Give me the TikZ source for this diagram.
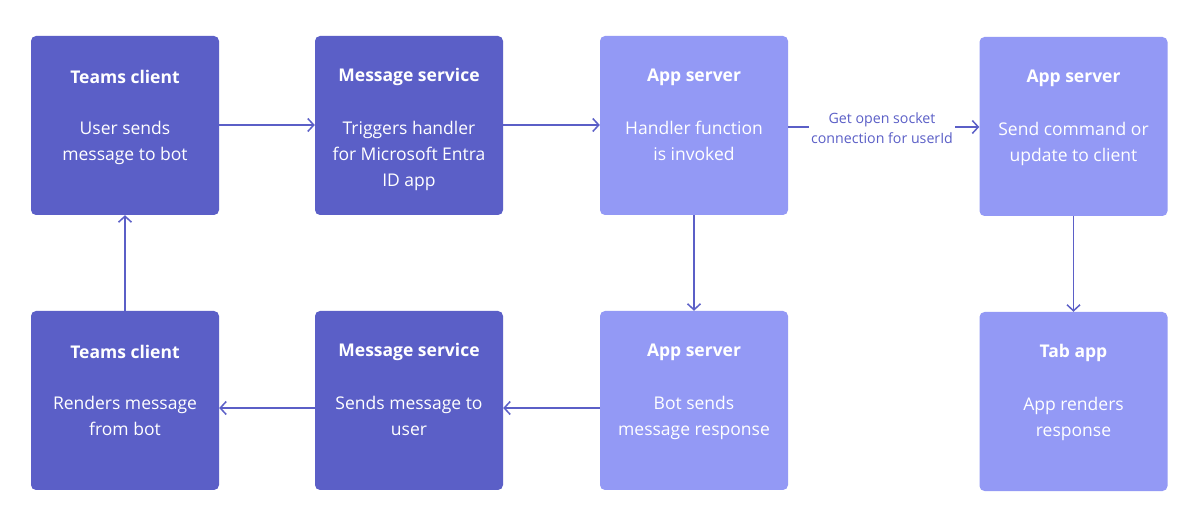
\documentclass[tikz,border=0pt]{standalone}
\usepackage{fontspec}
\setmainfont{Open Sans}
\usetikzlibrary{arrows.meta}
\definecolor{darkp}{HTML}{5B5FC7}
\definecolor{lightp}{HTML}{9399F5}
\begin{document}
\begin{tikzpicture}[x=1pt,y=-1pt,
  box/.style={rounded corners=5pt,minimum width=188pt,minimum height=179pt,inner sep=0pt,draw=none},
  dbox/.style={box,fill=darkp},
  lbox/.style={box,fill=lightp},
  ttl/.style={text=white,font=\fontsize{17.5}{24}\selectfont\bfseries},
  bdy/.style={text=white,font=\fontsize{17.5}{26}\selectfont,align=center,anchor=north,inner sep=0pt},
  conn/.style={draw=darkp,line width=1.5pt,-{Straight Barb[length=6pt,width=13pt,line width=1.5pt]}},
  lbl/.style={text=darkp,font=\fontsize{14.2}{20}\selectfont,align=center,fill=white,inner sep=2pt}
]
\useasboundingbox[fill=white] (0,0) rectangle (1200,526);
% row 1
\node[dbox] (b1) at (125,125.5) {};
\node[dbox] (b2) at (409,125.5) {};
\node[lbox] (b3) at (694,125.5) {};
\node[lbox] (b4) at (1073.5,126.5) {};
% row 2
\node[dbox] (c1) at (125,400.5) {};
\node[dbox] (c2) at (409,400.5) {};
\node[lbox] (c3) at (694,400.5) {};
\node[lbox] (c4) at (1073.5,401.5) {};
% titles
\node[ttl] (t1) at (125,77) {Teams client};
\node[ttl] (t2) at (409,77) {Message service};
\node[ttl] (t3) at (694,77) {App server};
\node[ttl] (t4) at (1073.5,78) {App server};
\node[ttl] (u1) at (125,352) {Teams client};
\node[ttl] (u2) at (409,352) {Message service};
\node[ttl] (u3) at (694,352) {App server};
\node[ttl] (u4) at (1073.5,353) {Tab app};
% bodies
\node[bdy] (d1) at (125,121) {User sends\\message to bot};
\node[bdy] (d2) at (409,121) {Triggers handler\\for Microsoft Entra\\ID app};
\node[bdy] (d3) at (694,121) {Handler function\\is invoked};
\node[bdy] (d4) at (1073.5,122) {Send command or\\update to client};
\node[bdy] (e1) at (125,396) {Renders message\\from bot};
\node[bdy] (e2) at (409,396) {Sends message to\\user};
\node[bdy] (e3) at (694,396) {Bot sends\\message response};
\node[bdy] (e4) at (1073.5,397) {App renders\\response};
% connectors
\draw[conn] (b1.east |- 0,125) -- (b2.west |- 0,125);
\draw[conn] (b2.east |- 0,125) -- (b3.west |- 0,125);
\node[lbl] (l1) at (882,128) {Get open socket\\connection for userId};
\draw[draw=darkp,line width=1.5pt] (b3.east |- 0,127) -- (l1.west |- 0,127);
\draw[conn] (l1.east |- 0,127) -- (b4.west |- 0,127);
\draw[conn] (b3.south) -- (c3.north);
\draw[conn] (b4.south) -- (c4.north);
\draw[conn] (c1.north) -- (b1.south);
\draw[conn] (c3.west |- 0,408) -- (c2.east |- 0,408);
\draw[conn] (c2.west |- 0,408) -- (c1.east |- 0,408);
\end{tikzpicture}
\end{document}
